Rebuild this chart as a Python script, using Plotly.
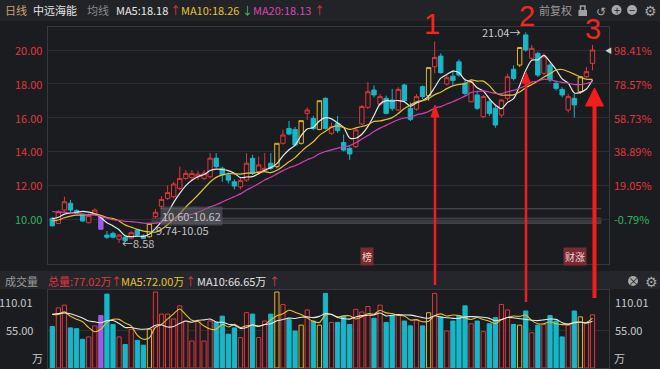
import plotly.graph_objects as go
import pandas as pd

W, H = 660, 369
BG = "#1b1c20"
FONT = "Noto Sans CJK SC, Noto Sans, sans-serif"

# ---------------- data ----------------
opens = [10.04, 9.74, 10.53, 10.93, 10.50, 10.28, 9.78, 10.30, 10.10, 9.05,
         9.15, 8.80, 8.92, 8.86, 9.35, 9.00, 8.95, 10.14, 10.75, 11.22,
         11.32, 11.80, 12.40, 12.45, 12.50, 12.40, 12.50, 13.60, 13.00, 12.60,
         12.20, 11.90, 12.30, 13.59, 12.80, 12.86, 13.30, 13.10, 14.48, 15.36,
         15.30, 14.48, 16.25, 15.95, 15.30, 17.14, 15.07, 15.66, 14.52, 14.18,
         14.28, 15.62, 16.61, 17.63, 16.80, 17.14, 17.04, 16.45, 17.93, 16.55,
         16.50, 17.83, 17.30, 19.01, 19.64, 17.99, 18.45, 19.30, 18.03, 16.94,
         17.34, 16.05, 16.94, 16.55, 16.15, 17.14, 18.86, 19.11, 20.89, 19.51,
         19.80, 18.62, 19.11, 18.03, 17.67, 16.45, 17.14, 17.53, 18.42, 19.21]
highs = [10.10, 10.53, 11.32, 11.13, 10.58, 10.33, 10.33, 10.63, 10.10, 9.29,
         9.25, 9.10, 8.98, 9.30, 9.40, 9.10, 9.74, 10.60, 11.35, 11.98,
         12.20, 13.10, 12.90, 12.90, 12.85, 12.90, 13.90, 13.90, 13.10, 12.75,
         12.35, 12.40, 13.90, 13.80, 13.70, 13.90, 13.90, 14.48, 15.30, 15.80,
         15.45, 15.82, 16.60, 16.10, 17.00, 17.20, 15.70, 16.10, 15.00, 14.30,
         15.40, 16.75, 18.10, 17.90, 17.40, 17.30, 17.70, 17.80, 18.00, 16.90,
         17.40, 17.90, 18.96, 20.50, 19.80, 18.50, 18.80, 19.45, 18.30, 18.23,
         17.53, 17.34, 17.10, 16.75, 17.10, 18.60, 19.10, 20.15, 21.04, 20.30,
         19.90, 19.80, 19.20, 18.20, 17.80, 17.40, 17.40, 18.42, 19.00, 20.30]
lows = [9.55, 9.70, 10.43, 10.37, 10.35, 9.84, 9.74, 10.25, 9.39, 8.82,
        8.85, 8.58, 8.65, 8.80, 9.00, 8.82, 8.90, 10.05, 10.62, 11.13,
        11.22, 11.70, 12.30, 12.25, 12.30, 12.30, 12.40, 13.00, 12.20, 12.10,
        11.75, 11.75, 12.20, 12.60, 12.70, 12.80, 12.90, 13.00, 14.40, 14.95,
        14.30, 14.40, 15.85, 15.25, 15.25, 15.30, 14.97, 15.10, 14.00, 13.50,
        14.20, 15.55, 16.50, 17.20, 16.70, 16.20, 16.40, 16.40, 16.90, 15.80,
        16.40, 17.10, 17.00, 18.62, 18.60, 17.90, 17.90, 18.42, 17.30, 16.90,
        16.45, 15.96, 16.10, 15.40, 16.00, 17.00, 18.20, 19.00, 19.90, 19.40,
        18.40, 18.50, 18.10, 17.60, 17.20, 16.30, 16.00, 17.40, 18.30, 18.80]
closes = [9.60, 10.43, 11.02, 10.53, 10.40, 9.88, 10.20, 10.53, 9.39, 8.92,
          8.92, 9.05, 8.72, 9.19, 9.05, 8.85, 9.74, 10.40, 11.15, 11.56,
          12.07, 12.40, 12.70, 12.70, 12.65, 12.70, 13.60, 13.10, 12.60, 12.30,
          11.95, 12.27, 13.30, 12.70, 13.20, 13.00, 13.00, 14.48, 14.97, 15.03,
          14.38, 15.82, 16.45, 15.36, 17.00, 15.36, 15.46, 15.23, 14.08, 13.85,
          15.27, 16.65, 17.53, 17.34, 17.24, 16.25, 16.55, 17.67, 17.00, 15.90,
          17.24, 17.24, 18.96, 19.56, 18.66, 18.36, 18.20, 18.52, 17.43, 18.13,
          16.55, 17.24, 16.25, 15.56, 17.04, 18.42, 18.32, 20.15, 20.00, 20.10,
          18.52, 19.64, 18.23, 17.73, 17.34, 17.24, 16.75, 18.42, 18.72, 20.00]
# U = up (hollow red), D = down (cyan), Y = limit-up (hollow yellow), P = special (purple)
kinds = list("DUUDDDUUPDDUDUDDY" "UUUUUUUUUU" "DDDDUUDUUD" "YUDDYUDYDU"
             "DDDUUUDUDD" "UDDUDYUDUD" "DDUDUDDUUD" "YDUDUDDDUD" "YUU")
volumes = [60, 87, 91, 58, 57, 41.5, 45, 61, 76, 107,
           63, 45, 34, 56, 40, 33, 56, 110, 78, 78,
           71, 90, 68, 39, 68, 39, 68, 66, 75, 49,
           58, 44, 80, 78, 44, 68, 78, 110, 92, 70,
           53.5, 62, 84, 68, 62, 108, 66, 66, 75, 63,
           85, 81, 89, 72, 91, 66, 76, 76, 68, 61,
           69, 61, 80, 108, 74, 53.5, 68, 76, 90, 64,
           68, 52.6, 64, 73, 92, 84, 63, 62, 82.5, 51,
           62, 63, 76, 68, 45, 62, 82.5, 74, 66, 77.02]
# sessions before the visible window (estimated from where the MA lines start)
prior_closes = [11.2, 11.0, 11.3, 11.1, 10.9, 11.0, 10.8, 11.0, 10.9, 10.8,
                9.9, 9.7, 9.6, 9.8, 9.8, 10.0, 10.1, 10.2, 10.2]
prior_volumes = [75, 82, 70, 85, 76, 88, 72, 90, 78]

price_ticks = [20, 18, 16, 14, 12, 10]
price_ticklabels = ["20.00", "18.00", "16.00", "14.00", "12.00", "10.00"]
pct_ticklabels = ["98.41%", "78.57%", "58.73%", "38.89%", "19.05%", "-0.79%"]
vol_ticks = [110.01, 55.0]
vol_ticklabels = ["110.01", "55.00"]
gap_zones = [(9.74, 10.05), (10.60, 10.62)]
gap_start = [16.45, 17.8]
low_value, low_index = 8.58, 11
high_value, high_index = 21.04, 78

n = len(closes)
idx = list(range(n))

# ---------------- colors ----------------
RED = "#e0363c"
CYAN = "#17b7c9"
YEL = "#e6b422"
PUR = "#9d5be3"
GREEN = "#2fb85a"
GRID = "#2c2e33"
FRAME = "#36383e"
style = {"U": (RED, BG), "D": (CYAN, CYAN), "Y": (YEL, BG), "P": (PUR, PUR)}


def px(x):
    return x / W


def py(y):
    return 1 - y / H


fig = go.Figure()

# candles
for k, (lc, fc) in style.items():
    sel = [i for i in idx if kinds[i] == k]
    st = dict(line=dict(color=lc, width=1), fillcolor=fc)
    fig.add_trace(go.Candlestick(
        x=sel, open=[opens[i] for i in sel], high=[highs[i] for i in sel],
        low=[lows[i] for i in sel], close=[closes[i] for i in sel],
        increasing=st, decreasing=st, whiskerwidth=0,
        hoverinfo="skip", showlegend=False, xaxis="x", yaxis="y"))

# moving averages
cs = pd.Series(prior_closes + closes)
ma_price = {5: "#e8e8e8", 10: "#e5c22c", 20: "#d43fb5"}
for w, c in ma_price.items():
    m = cs.rolling(w).mean().iloc[-n:].tolist()
    fig.add_trace(go.Scatter(x=idx, y=m, mode="lines",
                             line=dict(color=c, width=1.2, shape="spline", smoothing=0.8),
                             hoverinfo="skip", showlegend=False, xaxis="x", yaxis="y"))

# volume bars
vfill = [style[k][1] for k in kinds]
vline = [style[k][0] for k in kinds]
fig.add_trace(go.Bar(x=idx, y=volumes, marker=dict(color=vfill, line=dict(color=vline, width=1)),
                     hoverinfo="skip", showlegend=False, xaxis="x2", yaxis="y2"))
vs = pd.Series(prior_volumes + volumes)
for w, c in {5: "#e5c22c", 10: "#e8e8e8"}.items():
    m = vs.rolling(w).mean().iloc[-n:].tolist()
    fig.add_trace(go.Scatter(x=idx, y=m, mode="lines",
                             line=dict(color=c, width=1.1, shape="spline", smoothing=0.8),
                             hoverinfo="skip", showlegend=False, xaxis="x2", yaxis="y2"))

shapes = []
# header backgrounds
shapes.append(dict(type="rect", xref="paper", yref="paper", x0=0, x1=1, y0=py(21), y1=1,
                   fillcolor="#222327", line=dict(width=0), layer="below"))
shapes.append(dict(type="rect", xref="paper", yref="paper", x0=0, x1=1, y0=py(289), y1=py(271),
                   fillcolor="#25262b", line=dict(width=0), layer="below"))
# gap zones
for (lo, hi), xs in zip(gap_zones, gap_start):
    shapes.append(dict(type="rect", xref="x", yref="y", x0=xs, x1=90.4, y0=lo, y1=hi,
                       fillcolor="#3a3b41", line=dict(color="#45464c", width=1), layer="below"))


# red arrows
def arrow(x, tip, tail, shaft, hw, hl):
    shapes.append(dict(type="line", xref="paper", yref="paper", x0=px(x), x1=px(x),
                       y0=py(tail), y1=py(tip + hl - 1), line=dict(color="#f21d1d", width=shaft)))
    path = "M {} {} L {} {} L {} {} Z".format(px(x - hw / 2), py(tip + hl), px(x), py(tip),
                                              px(x + hw / 2), py(tip + hl))
    shapes.append(dict(type="path", xref="paper", yref="paper", path=path,
                       fillcolor="#f21d1d", line=dict(color="#f21d1d", width=1)))


arrow(435, 105, 285, 2.5, 8, 12)
arrow(526, 72, 302, 2.5, 9, 11)
arrow(594.5, 88, 298, 4, 18, 18)

# header icons (lock, circles)
shapes.append(dict(type="rect", xref="paper", yref="paper", x0=px(578.5), x1=px(587), y0=py(16), y1=py(10),
                   fillcolor="#a0a0a0", line=dict(width=0)))
shapes.append(dict(type="path", xref="paper", yref="paper",
                   path="M {} {} L {} {} L {} {} L {} {}".format(px(580.5), py(10), px(580.5), py(6),
                                                                 px(585), py(6), px(585), py(10)),
                   line=dict(color="#a0a0a0", width=1.5)))
for cx, cy in [(616.5, 10), (632, 10), (633, 281)]:
    shapes.append(dict(type="circle", xref="paper", yref="paper", x0=px(cx - 5), x1=px(cx + 5),
                       y0=py(cy + 5), y1=py(cy - 5), fillcolor="#a8a8a8", line=dict(width=0)))

ann = []


def txt(x, y, s, color, size=11, xanchor="left", yanchor="middle", xref="paper", yref="paper",
        family=FONT, **kw):
    ann.append(dict(x=x, y=y, text=s, xref=xref, yref=yref, xanchor=xanchor, yanchor=yanchor,
                    showarrow=False, font=dict(color=color, size=size, family=family), **kw))


# tick labels
for v, t, p in zip(price_ticks, price_ticklabels, pct_ticklabels):
    c = GREEN if p.startswith("-") else RED
    txt(px(44), v, t, c, size=11, xanchor="right", yref="y")
    txt(px(612), v, p, c, size=11, xanchor="left", yref="y")
for v, t in zip(vol_ticks, vol_ticklabels):
    ya = "top" if v > 100 else "middle"
    txt(px(35), v, t, "#c8c8c8", size=11, xanchor="right", yanchor=ya, yref="y2")
    txt(px(613), v, t, "#c8c8c8", size=11, xanchor="left", yanchor=ya, yref="y2")
txt(px(37.5), py(358), "万", "#c8c8c8", size=11, xanchor="center")
txt(px(619), py(358), "万", "#c8c8c8", size=11, xanchor="center")

# header row
hy = py(10)
txt(px(3), hy, "日线", "#c9a36c")
txt(px(31), hy, "中远海能", "#e2e2e2")
txt(px(85), hy, "均线", "#8a8a8a")
txt(px(114), hy, "MA5:18.18", "#e8e8e8")
txt(px(168), hy, "↑", RED, size=11)
txt(px(179), hy, "MA10:18.26", "#e5c22c")
txt(px(240), hy, "↓", "#2bd05a", size=11)
txt(px(251), hy, "MA20:18.13", "#d845b8")
txt(px(312), hy, "↑", RED, size=11)
txt(px(537), hy, "前复权", "#9a9a9a")
txt(px(600.5), hy, "↺", "#a8a8a8", size=12, xanchor="center")
txt(px(616.5), hy, "+", BG, size=11, xanchor="center")
txt(px(632), hy, "−", BG, size=11, xanchor="center")
txt(px(650.5), hy, "⚙", "#a8a8a8", size=14, xanchor="center")

# volume header
vy = py(281)
txt(px(3), vy, "成交量", "#9a9a9a")
txt(px(46), vy, "总量:77.02万", RED)
txt(px(109), vy, "↑", RED)
txt(px(119), vy, "MA5:72.00万", "#e5c22c")
txt(px(183), vy, "↑", RED)
txt(px(195), vy, "MA10:66.65万", "#e2e2e2")
txt(px(267), vy, "↑", RED)
txt(px(633), vy, "×", BG, size=11, xanchor="center")
txt(px(651), vy, "⚙", "#a8a8a8", size=14, xanchor="center")

# marks inside the price pane
txt(low_index + 0.2, low_value, "←8.58", "#bdbdbd", size=11, xref="x", yref="y")
txt(high_index - 0.55, high_value, "21.04→", "#c8c8c8", size=11, xanchor="right", xref="x", yref="y")
txt(17.8, 10.18, "10.60-10.62", "#c0c0c0", size=11, xref="x", yref="y", bgcolor="rgba(95,96,102,0.55)")
txt(16.7, 9.35, "9.74-10.05", "#c0c0c0", size=11, xref="x", yref="y")
txt(51.9, py(256), "榜", "#f0d2d2", size=10, xanchor="center", xref="x", bgcolor="#7a2a31")
txt(86.1, py(256), "财涨", "#f0d2d2", size=10, xanchor="center", xref="x", bgcolor="#7a2a31")
txt(px(608), 20.0, "◀", "#cfcfcf", size=7, xanchor="center", yref="y")

# big hand-written numbers
for xx, yy, s in [(432, 24, "1"), (527, 16, "2"), (593, 29, "3")]:
    txt(px(xx), py(yy), s, "#f0281e", size=29, xanchor="center",
        family="Liberation Sans, Arial, sans-serif")

xrange = [-0.71, 91.72]
axis_common = dict(showgrid=False, zeroline=False, showticklabels=False, ticks="",
                   showline=True, mirror=True, linecolor=FRAME, linewidth=1, fixedrange=True)
fig.update_layout(
    width=W, height=H, margin=dict(l=0, r=0, t=0, b=0),
    paper_bgcolor=BG, plot_bgcolor=BG, showlegend=False, hovermode=False,
    bargap=0.3, boxgap=0.2, boxgroupgap=0.1,
    xaxis=dict(domain=[px(48), px(609)], range=xrange, anchor="y",
               rangeslider=dict(visible=False), **axis_common),
    yaxis=dict(domain=[py(264), py(27)], range=[7.337, 21.361], anchor="x",
               showgrid=True, gridcolor=GRID, tickvals=price_ticks, zeroline=False,
               showticklabels=False, ticks="", showline=True, mirror=True,
               linecolor=FRAME, fixedrange=True),
    xaxis2=dict(domain=[px(48), px(609)], range=xrange, anchor="y2",
                rangeslider=dict(visible=False), **axis_common),
    yaxis2=dict(domain=[py(368), py(290)], range=[0, 112.9], anchor="x2",
                showgrid=True, gridcolor=GRID, tickvals=[55], zeroline=False,
                showticklabels=False, ticks="", showline=True, mirror=True,
                linecolor=FRAME, fixedrange=True),
    shapes=shapes, annotations=ann,
)

fig.write_html("out.html", config={"displayModeBar": False},
               post_script="document.body.style.margin='0';document.body.style.overflow='hidden';")
